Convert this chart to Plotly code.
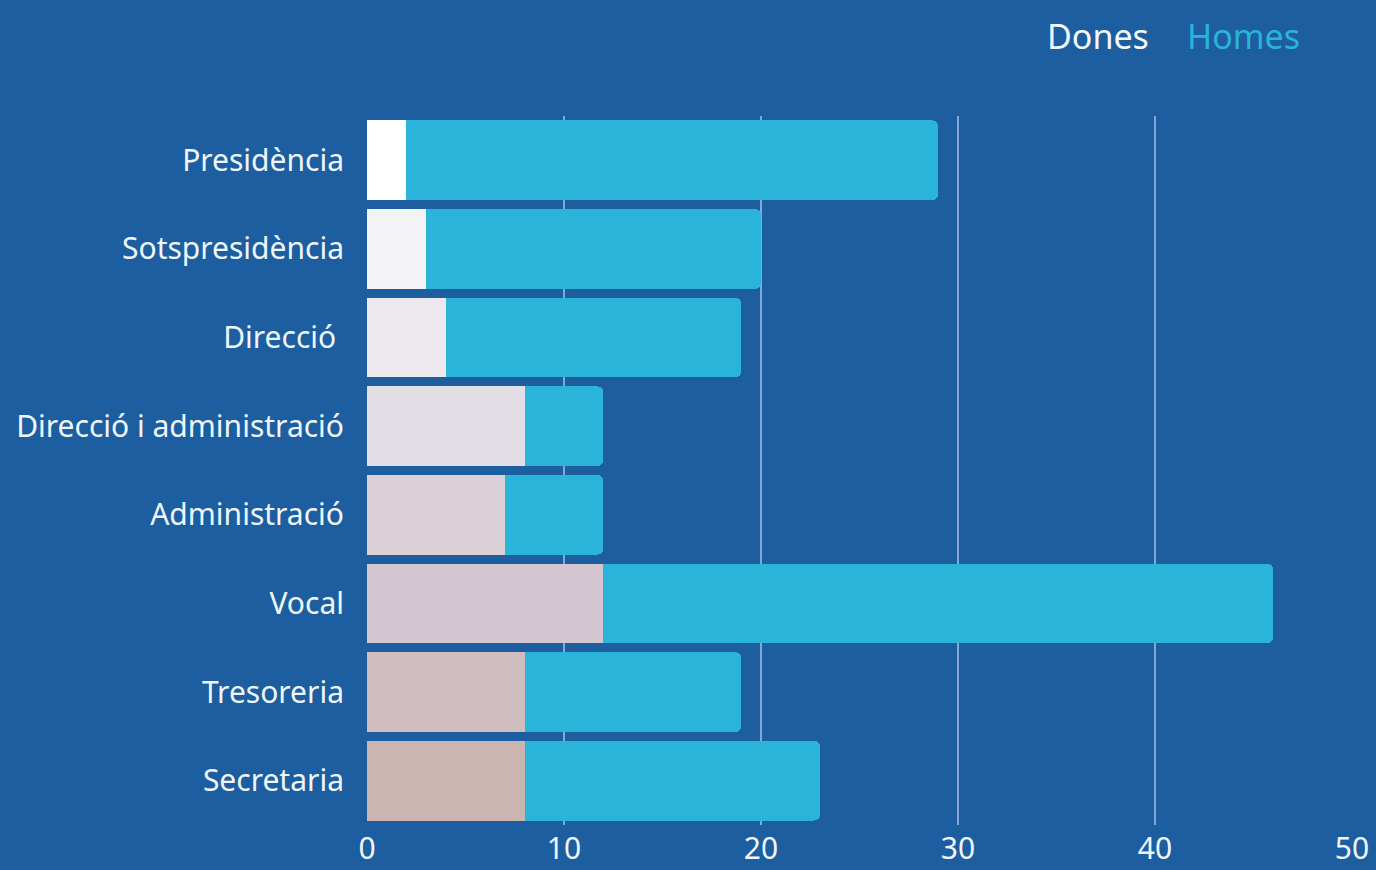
import plotly.graph_objects as go

categories = ["Presidència", "Sotspresidència", "Direcció ", "Direcció i administració",
              "Administració", "Vocal", "Tresoreria", "Secretaria"]
dones = [2, 3, 4, 8, 7, 12, 8, 8]
homes = [27, 17, 15, 4, 5, 34, 11, 15]
dones_colors = ["#ffffff", "#f3f3f5", "#ece8ee", "#e3dee5", "#dbd0d6", "#d4c6d0", "#cfbcbe", "#cab5b2"]
x_ticks = [0, 10, 20, 30, 40, 50]

BG = "#1c5e9f"
CYAN = "#2ab4d9"
FONT = "Noto Sans"
W, H = 1376, 870
ML, MR, MT, MB = 367, 24, 116, 45

fig = go.Figure()
fig.add_trace(go.Bar(y=categories, x=dones, orientation="h", name="Dones",
                     marker=dict(color=dones_colors, line=dict(width=0))))
fig.add_trace(go.Bar(y=categories, x=homes, orientation="h", name="Homes",
                     marker=dict(color=CYAN, line=dict(width=0))))

pw = W - ML - MR
ph = H - MT - MB


def px2paper(px, py):
    return (px - ML) / pw, (H - MB - py) / ph


dx, dy = px2paper(1098, 36)
hx, hy = px2paper(1243, 36)

fig.update_layout(
    width=W, height=H,
    barmode="stack", bargap=0.1, barcornerradius=6,
    paper_bgcolor=BG, plot_bgcolor=BG,
    showlegend=False,
    margin=dict(l=ML, r=MR, t=MT, b=MB, autoexpand=False),
    font=dict(family=FONT, color="#eef6fb"),
    xaxis=dict(range=[0, 50], tickvals=x_ticks, showgrid=True, automargin=False,
               gridcolor="rgba(170,192,232,0.75)", gridwidth=2,
               zeroline=True, zerolinecolor=BG, zerolinewidth=1,
               showline=False, ticks="", ticklabelstandoff=3,
               tickfont=dict(size=30, color="#eef6fb")),
    yaxis=dict(autorange="reversed", showgrid=False, zeroline=False, showline=False,
               ticks="", ticklabelstandoff=22, automargin=False,
               tickfont=dict(size=30, color="#eef6fb")),
    annotations=[
        dict(text="Dones", x=dx, y=dy, xref="paper", yref="paper", showarrow=False,
             xanchor="center", yanchor="middle",
             font=dict(size=34, color="#f2f8fc", family=FONT)),
        dict(text="Homes", x=hx, y=hy, xref="paper", yref="paper", showarrow=False,
             xanchor="center", yanchor="middle",
             font=dict(size=34, color=CYAN, family=FONT)),
    ],
)

fig.write_html("out.html", config={"displayModeBar": False},
               post_script="document.body.style.margin='0';document.body.style.overflow='hidden';")
